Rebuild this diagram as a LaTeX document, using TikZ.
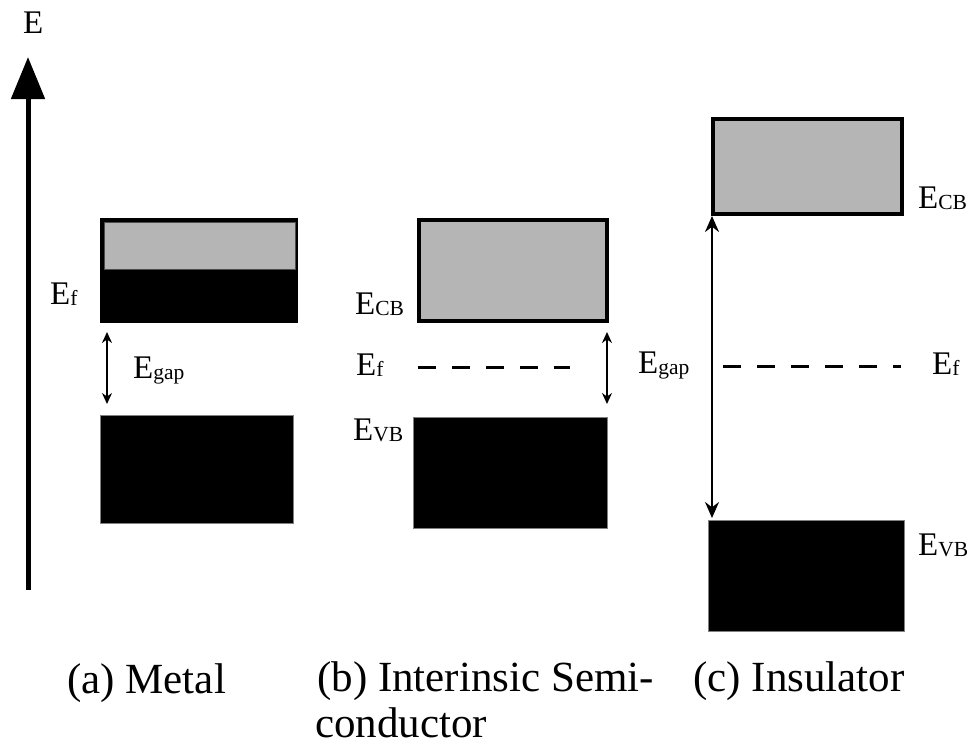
\documentclass[tikz,border=0pt]{standalone}
\usepackage{fontspec}
\setmainfont{Liberation Serif}
\usetikzlibrary{arrows.meta}
\definecolor{bandgray}{HTML}{B5B5B5}
\newcommand\bandsub[1]{{\fontsize{21.5}{21.5}\selectfont\raisebox{-1pt}{#1}}}
\begin{document}
\begin{tikzpicture}[x=1pt,y=-1pt,
  elab/.style={anchor=base west, inner sep=0pt, font=\fontsize{33}{33}\selectfont},
  captxt/.style={anchor=base west, inner sep=0pt, font=\fontsize{43}{48}\selectfont},
  cbbox/.style={draw=black, line width=4pt, fill=bandgray},
  vbbox/.style={draw=gray, line width=0.8pt, fill=black},
  fermi/.style={line width=3pt, dash pattern=on 18pt off 16pt},
  gaparrow/.style={line width=1.4pt, {Stealth[width=10pt,length=11pt]}-{Stealth[width=10pt,length=11pt]}},
  biggap/.style={line width=2pt, {Stealth[width=14pt,length=16pt]}-{Stealth[width=14pt,length=16pt]}}
]
\useasboundingbox (0,0) rectangle (972,747);

% energy axis
\node[elab] (Eaxis) at (23,33) {E};
\coordinate (axbot) at (28,590);
\coordinate (axtop) at (28,57);
\draw[line width=5pt, -{Triangle[width=33pt,length=42pt]}] (axbot) -- (axtop);

% (a) Metal
\fill[black] (100,218) rectangle (298,323);
\filldraw[fill=bandgray, draw=gray!60!black, line width=0.5pt] (104,222) rectangle (295,269);
\path[vbbox] (100,415) rectangle (293,523);
\coordinate (aTop) at (107,332);
\coordinate (aBot) at (107,404);
\draw[gaparrow] (aTop) -- (aBot);
\node[elab] (aEf) at (50,304) {E\bandsub{f}};
\node[elab] (aEgap) at (133,378) {E\bandsub{gap}};

% (b) Intrinsic semiconductor
\path[cbbox] (419,220) rectangle (607,321);
\path[vbbox] (413,417) rectangle (607,528);
\coordinate (bFl) at (418,367);
\coordinate (bFr) at (570,367);
\draw[fermi] (bFl) -- (bFr);
\coordinate (bTop) at (607,332);
\coordinate (bBot) at (607,404);
\draw[gaparrow] (bTop) -- (bBot);
\node[elab] (bECB) at (355,314) {E\bandsub{CB}};
\node[elab] (bEf) at (356,375) {E\bandsub{f}};
\node[elab] (bEVB) at (353,440) {E\bandsub{VB}};
\node[elab] (cEgap) at (638,373) {E\bandsub{gap}};

% (c) Insulator
\path[cbbox] (713,119) rectangle (902,214);
\path[vbbox] (708,520) rectangle (904,631);
\coordinate (cFl) at (723,366);
\coordinate (cFr) at (901,366);
\draw[fermi] (cFl) -- (cFr);
\coordinate (cTop) at (712,216);
\coordinate (cBot) at (712,518);
\draw[biggap] (cTop) -- (cBot);
\node[elab] (cECB) at (918,208) {E\bandsub{CB}};
\node[elab] (cEf) at (932,374) {E\bandsub{f}};
\node[elab] (cEVB) at (918,555) {E\bandsub{VB}};

% captions
\node[captxt] (capa) at (67,693) {(a) Metal};
\node[captxt] (capb1) at (317,691) {(b) Interinsic Semi-};
\node[captxt] (capb2) at (315,737) {conductor};
\node[captxt] (capc) at (693,691) {(c) Insulator};
\end{tikzpicture}
\end{document}
